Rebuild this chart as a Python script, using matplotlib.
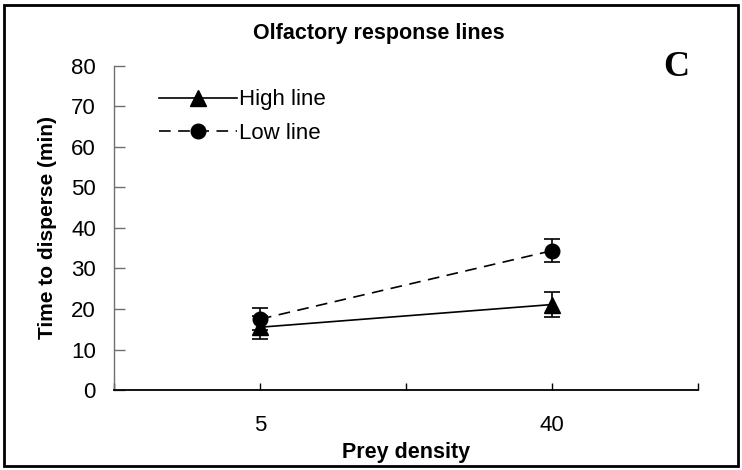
import matplotlib
matplotlib.use('Agg')
import matplotlib.pyplot as plt
import numpy as np
from matplotlib.patches import Rectangle

plt.rcParams['font.family'] = ['Liberation Sans', 'DejaVu Sans']

# datos
densidades = ['5', '40']
series = ['High line', 'Low line']
high_media = [15.5, 21.1]
high_err = [2.8, 3.0]
low_media = [17.5, 34.4]
low_err = [2.7, 2.9]

fig = plt.figure(figsize=(7.42, 4.70), dpi=100)
ax = fig.add_axes([0.1536, 0.1702, 0.7871, 0.6894])

# categorias en las posiciones 1 y 3 de un eje de 0 a 4
x = 2 * np.arange(len(densidades)) + 1

high = ax.errorbar(x, high_media, yerr=high_err, color='black', lw=1.2,
                   marker='^', markersize=11, capsize=6, capthick=1.2,
                   elinewidth=1.2)
low = ax.errorbar(x, low_media, yerr=low_err, color='black', lw=1.2,
                  marker='o', markersize=10.5, capsize=6, capthick=1.2,
                  elinewidth=1.2, dashes=(7, 4.5))

ax.set_xlim(0, 4)
ax.set_ylim(0, 80)
ax.set_yticks(np.arange(0, 81, 10))
ax.set_xticks(np.arange(0, 5))
etiquetas = ['' for i in range(5)]
for k in range(len(densidades)):
    etiquetas[x[k]] = densidades[k]
ax.set_xticklabels(etiquetas)

ax.spines['top'].set_visible(False)
ax.spines['right'].set_visible(False)
ax.spines['left'].set_color('#707070')
ax.spines['left'].set_linewidth(1.0)
ax.spines['bottom'].set_linewidth(1.3)
ax.tick_params(axis='y', direction='in', length=8, width=1, color='#707070',
               labelsize=16, pad=13)
ax.tick_params(axis='x', direction='in', length=5, width=1,
               labelsize=16, pad=18)

ax.set_xlabel('Prey density', fontsize=15.5, fontweight='bold', labelpad=4)
ax.set_ylabel('Time to disperse (min)', fontsize=15, fontweight='bold', labelpad=10)
fig.text(0.511, 0.928, 'Olfactory response lines', ha='center', va='center',
         fontsize=15.5, fontweight='bold')
fig.text(0.912, 0.857, 'C', ha='center', va='center', fontsize=26,
         fontweight='bold', family='Liberation Serif')

leg = ax.legend([high[0], low[0]], series, loc='upper left',
                bbox_to_anchor=(0.062, 0.955), frameon=False,
                fontsize=16, handlelength=3.5, handletextpad=0.1,
                labelspacing=0.55, borderaxespad=0)

# marco negro alrededor de la figura
fig.patches.append(Rectangle((0.006, 0.008), 0.988, 0.981, transform=fig.transFigure,
                             fill=False, edgecolor='black', lw=2))

plt.savefig('out.png', dpi=100)
